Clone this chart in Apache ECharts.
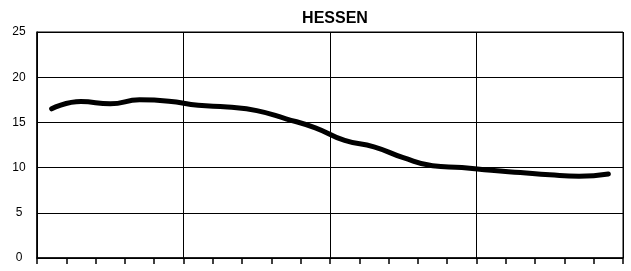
<!DOCTYPE html>
<html>
<head>
<meta charset="utf-8">
<title>HESSEN</title>
<script src="https://cdn.jsdelivr.net/npm/echarts@6/dist/echarts.min.js"></script>
<style>
  html, body { margin: 0; padding: 0; background: #ffffff; }
  #charts { width: 631px; height: 271px; }
</style>
</head>
<body>
<div id="charts"></div>
<script>
/* chart data */
let years = ["1960", "1961", "1962", "1963", "1964", "1965", "1966", "1967", "1968", "1969",
  "1970", "1971", "1972", "1973", "1974", "1975", "1976", "1977", "1978", "1979"];
let rates = [16.5, 17.3, 17.05, 17.5, 17.35, 16.9, 16.7, 16.3, 15.4, 14.4,
  13.0, 12.3, 11.1, 10.2, 10.0, 9.7, 9.45, 9.2, 9.05, 9.3];
let yTicks = [0, 5, 10, 15, 20, 25];

/* charts render */
function chartRender() {
  let myChart = echarts.init(document.getElementById("charts"));
  let option = {
    animation: false,
    title: {
      text: "HESSEN",
      left: 330,
      top: 6,
      textAlign: "center",
      textStyle: { fontFamily: "Liberation Sans", fontWeight: "bold", fontSize: 16, color: "#000" },
    },
    grid: {
      left: 37,
      right: 8,
      top: 32,
      bottom: 13,
      show: true,
      borderColor: "#000",
      borderWidth: 1,
    },
    xAxis: {
      type: "category",
      data: years,
      boundaryGap: true,
      axisLine: { lineStyle: { color: "#000", width: 1.5 } },
      axisTick: { show: true, interval: 0, length: 6, inside: false, lineStyle: { color: "#000", width: 1.5 } },
      axisLabel: { show: false },
      splitLine: { show: true, interval: 4, lineStyle: { color: "#000", width: 1 } },
    },
    yAxis: {
      type: "value",
      min: yTicks[0],
      max: yTicks[yTicks.length - 1],
      interval: 5,
      axisLine: { show: true, lineStyle: { color: "#000", width: 1.5 } },
      axisTick: { show: false },
      axisLabel: { align: "center", margin: 18, color: "#000", fontFamily: "Liberation Sans", fontSize: 12 },
      splitLine: { show: true, lineStyle: { color: "#000", width: 1 } },
    },
    series: [
      {
        type: "line",
        data: rates,
        smooth: true,
        showSymbol: false,
        lineStyle: { color: "#000", width: 5, cap: "round" },
      },
    ],
  };
  myChart.setOption(option);
}

chartRender();
</script>
</body>
</html>
